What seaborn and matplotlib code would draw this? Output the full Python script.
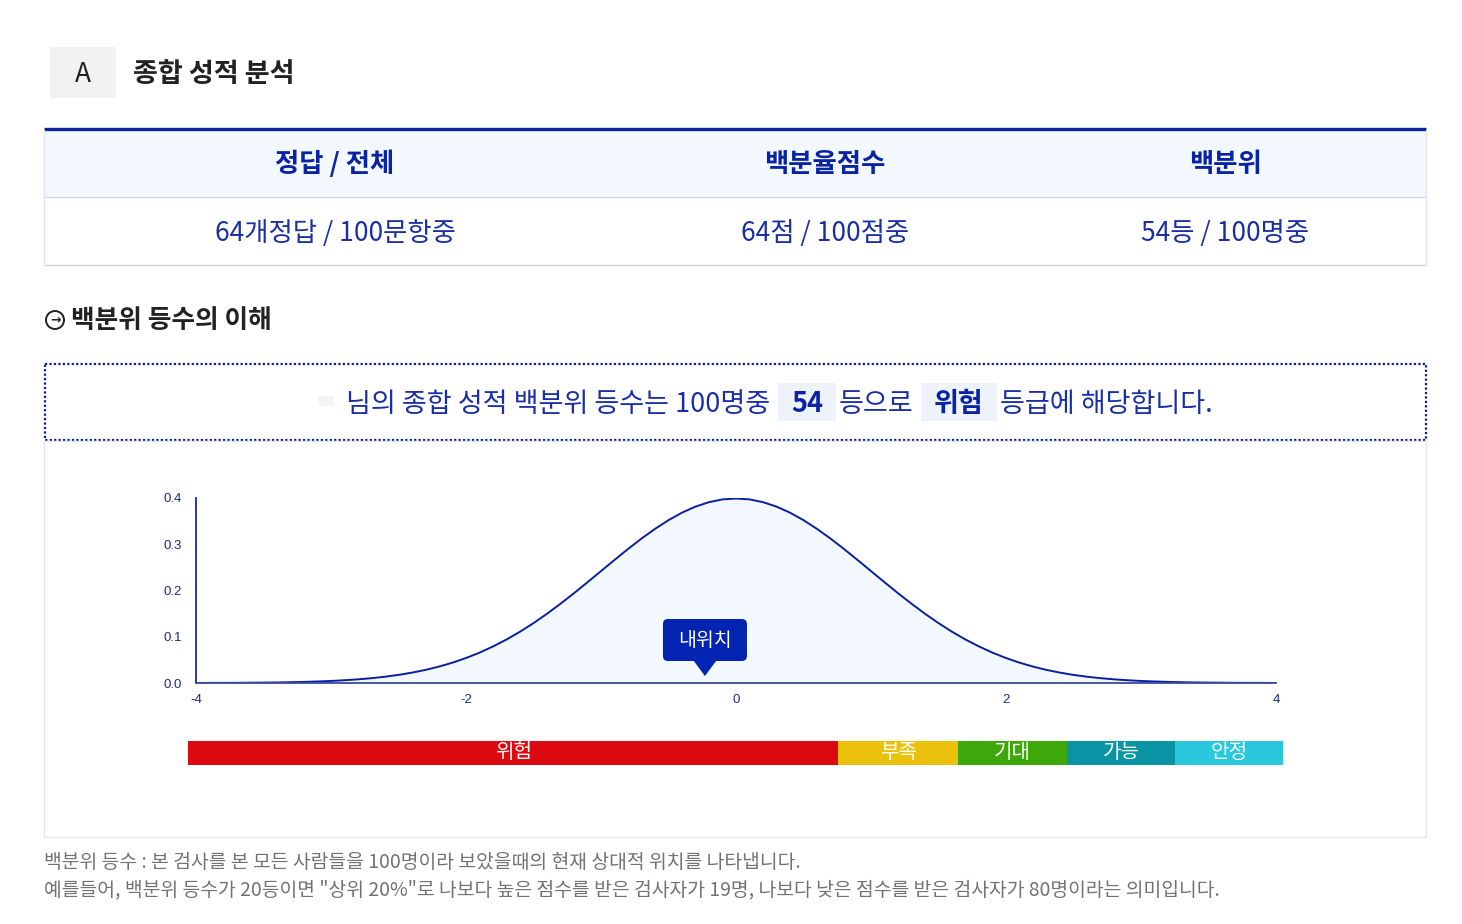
import matplotlib
matplotlib.use("Agg")
import matplotlib.pyplot as plt
from matplotlib.patches import Rectangle, FancyBboxPatch, Circle, Polygon
import numpy as np
import seaborn as sns

# ---- data ----
col_titles = ["정답 / 전체", "백분율점수", "백분위"]
col_values = ["64개정답 / 100문항중", "64점 / 100점중", "54등 / 100명중"]
rank = "54"
grade = "위험"

curve_x = [-4.0, -3.9, -3.8, -3.7, -3.6, -3.5, -3.4, -3.3, -3.2, -3.1,
           -3.0, -2.9, -2.8, -2.7, -2.6, -2.5, -2.4, -2.3, -2.2, -2.1,
           -2.0, -1.9, -1.8, -1.7, -1.6, -1.5, -1.4, -1.3, -1.2, -1.1,
           -1.0, -0.9, -0.8, -0.7, -0.6, -0.5, -0.4, -0.3, -0.2, -0.1,
           0.0,
           0.1, 0.2, 0.3, 0.4, 0.5, 0.6, 0.7, 0.8, 0.9, 1.0,
           1.1, 1.2, 1.3, 1.4, 1.5, 1.6, 1.7, 1.8, 1.9, 2.0,
           2.1, 2.2, 2.3, 2.4, 2.5, 2.6, 2.7, 2.8, 2.9, 3.0,
           3.1, 3.2, 3.3, 3.4, 3.5, 3.6, 3.7, 3.8, 3.9, 4.0]
curve_y = [0.0001, 0.0002, 0.0003, 0.0004, 0.0006, 0.0009, 0.0012, 0.0017, 0.0024, 0.0033,
           0.0044, 0.0060, 0.0079, 0.0104, 0.0136, 0.0175, 0.0224, 0.0283, 0.0355, 0.0440,
           0.0540, 0.0656, 0.0790, 0.0940, 0.1109, 0.1295, 0.1497, 0.1714, 0.1942, 0.2179,
           0.2420, 0.2661, 0.2897, 0.3123, 0.3332, 0.3521, 0.3683, 0.3814, 0.3910, 0.3970,
           0.3989,
           0.3970, 0.3910, 0.3814, 0.3683, 0.3521, 0.3332, 0.3123, 0.2897, 0.2661, 0.2420,
           0.2179, 0.1942, 0.1714, 0.1497, 0.1295, 0.1109, 0.0940, 0.0790, 0.0656, 0.0540,
           0.0440, 0.0355, 0.0283, 0.0224, 0.0175, 0.0136, 0.0104, 0.0079, 0.0060, 0.0044,
           0.0033, 0.0024, 0.0017, 0.0012, 0.0009, 0.0006, 0.0004, 0.0003, 0.0002, 0.0001]
my_pos = -0.23

x_ticks = [-4, -2, 0, 2, 4]
y_ticks = [0.0, 0.1, 0.2, 0.3, 0.4]

grade_names = ["위험", "부족", "기대", "가능", "안정"]
grade_share = [59.4, 10.9, 10.0, 9.8, 9.9]
grade_colors = ["#dc0a10", "#ecc10c", "#3ea80b", "#0995a4", "#29c8dc"]

notes = ["백분위 등수 : 본 검사를 본 모든 사람들을 100명이라 보았을때의 현재 상대적 위치를 나타냅니다.",
         "예를들어, 백분위 등수가 20등이면 \"상위 20%\"로 나보다 높은 점수를 받은 검사자가 19명, "
         "나보다 낮은 점수를 받은 검사자가 80명이라는 의미입니다."]

# ---- style ----
sns.set_theme(style="white")
plt.rcParams['font.family'] = ['Noto Sans CJK KR', 'DejaVu Sans']

W, H = 1462, 924
navy = "#0a23a5"
text_blue = "#1a2ea6"
line_blue = "#0a1f9e"

fig = plt.figure(figsize=(W / 100, H / 100), dpi=100)
fig.patch.set_facecolor("white")


def px_axes(x0, y0, x1, y1):
    return fig.add_axes([x0 / W, 1 - y1 / H, (x1 - x0) / W, (y1 - y0) / H])


# normal curve chart
ax = px_axes(196, 498, 1276, 683)
sns.lineplot(x=curve_x, y=curve_y, ax=ax, color=line_blue, linewidth=1.4)
ax.fill_between(curve_x, curve_y, color="#f3f7fe", zorder=0)
ax.set_xlim(-4, 4)
ax.set_ylim(0, 0.4)
ax.set_xticks(x_ticks)
ax.set_xticklabels([str(t) for t in x_ticks])
ax.set_yticks(y_ticks)
ax.set_yticklabels([f"{t:.1f}" for t in y_ticks])
ax.tick_params(length=0, labelsize=9.5, labelcolor="#1a2a8a")
ax.tick_params(axis="x", pad=8)
ax.tick_params(axis="y", pad=10)
for lab in ax.get_xticklabels() + ax.get_yticklabels():
    lab.set_family("Liberation Sans")
for s in ["top", "right"]:
    ax.spines[s].set_visible(False)
ax.spines["left"].set_color("#1a2a9a")
ax.spines["left"].set_linewidth(1.3)
ax.spines["bottom"].set_color("#3b4d9f")
ax.spines["bottom"].set_linewidth(1.3)
ax.set_facecolor("none")
ax.grid(False)

# grade bar
axg = px_axes(188, 741, 1283, 765)
lefts = np.concatenate([[0], np.cumsum(grade_share)[:-1]])
axg.barh(0, grade_share, left=lefts, height=1, color=grade_colors, edgecolor="none")
axg.set_xlim(0, sum(grade_share))
axg.set_ylim(-0.5, 0.5)
axg.axis("off")
for name, l, w in zip(grade_names, lefts, grade_share):
    axg.text(l + w / 2, 0.02, name, ha="center", va="center", fontsize=14.5, color="white")

# overlay in pixel coordinates for the page layout
bg = fig.add_axes([0, 0, 1, 1], zorder=10)
bg.set_xlim(0, W)
bg.set_ylim(H, 0)
bg.axis("off")
bg.patch.set_alpha(0)

# header
bg.add_patch(Rectangle((50, 47), 66, 51, fc="#f2f2f2", ec="none"))
bg.text(83, 75, "A", ha="center", va="center", fontsize=19, color="#222222")
bg.text(133, 74, "종합 성적 분석", ha="left", va="center", fontsize=19.5, fontweight="bold", color="#222222")

# table
bg.add_patch(Rectangle((44, 130), 1382, 67, fc="#f3f7fe", ec="none"))
bg.plot([44, 1426], [129, 129], color="#0a22a0", lw=2.4, solid_capstyle="butt")
bg.plot([44, 1426], [197, 197], color="#d3d8e8", lw=1)
bg.plot([44, 1426], [265, 265], color="#d8d8d8", lw=1)
bg.plot([44, 44], [130, 265], color="#e4e4e4", lw=1)
bg.plot([1426, 1426], [130, 265], color="#e4e4e4", lw=1)
col_x = [335, 825, 1225]
for cx, t, v in zip(col_x, col_titles, col_values):
    bg.text(cx, 164, t, ha="center", va="center", fontsize=19, fontweight="bold", color=navy)
    bg.text(cx, 233, v, ha="center", va="center", fontsize=19, color=text_blue)

# section title
bg.add_patch(Circle((55, 320), 9, fc="none", ec="#222222", lw=1.4))
bg.text(55.5, 319.5, "→", ha="center", va="center", fontsize=9, fontweight="bold",
        color="#222222", family="DejaVu Sans")
bg.text(71, 320, "백분위 등수의 이해", ha="left", va="center", fontsize=18.5, fontweight="bold", color="#222222")

# dotted sentence box
bg.add_patch(Rectangle((45, 364), 1381, 76, fc="none", ec="#0a1f8f", lw=1.6,
                       linestyle=(0, (1, 1))))
bg.add_patch(Rectangle((318, 396), 16, 10, fc="#f4f4f7", ec="none"))

renderer = fig.canvas.get_renderer()


def put(x, s, bold=False, box=False):
    t = bg.text(x, 404, s, ha="left", va="center", fontsize=19.5,
                fontweight="bold" if bold else "normal", color=text_blue if not bold else navy)
    w = t.get_window_extent(renderer).width
    if box:
        t.set_x(x + 13)
        bg.add_patch(Rectangle((x, 383), w + 26, 38, fc="#eef3fb", ec="none", zorder=0))
        return x + w + 26
    return x + w


x = put(346, "님의 종합 성적 백분위 등수는 100명중")
x = put(x + 8, rank, bold=True, box=True)
x = put(x + 3, "등으로")
x = put(x + 7, grade, bold=True, box=True)
put(x + 3, "등급에 해당합니다.")

# chart container
bg.add_patch(Rectangle((44, 441), 1382, 396, fc="none", ec="#e6e6e6", lw=1))

# my position marker, anchored on the chart's data scale
px, py = ax.transData.transform((my_pos, 0))
py = H - py
bg.add_patch(FancyBboxPatch((px - 42, py - 64), 84, 42,
                            boxstyle="round,pad=0,rounding_size=5", fc="#0324b0", ec="none"))
bg.add_patch(Polygon([[px - 11.5, py - 22.5], [px + 11.5, py - 22.5], [px, py - 7]],
                     closed=True, fc="#0324b0", ec="none"))
bg.text(px, py - 42, "내위치", ha="center", va="center", fontsize=14, color="white")

# footnotes
bg.text(44, 863, notes[0], ha="left", va="center", fontsize=13.9, color="#727272")
bg.text(44, 890, notes[1], ha="left", va="center", fontsize=13.9, color="#727272")

fig.savefig("out.png", dpi=100, facecolor="white")
